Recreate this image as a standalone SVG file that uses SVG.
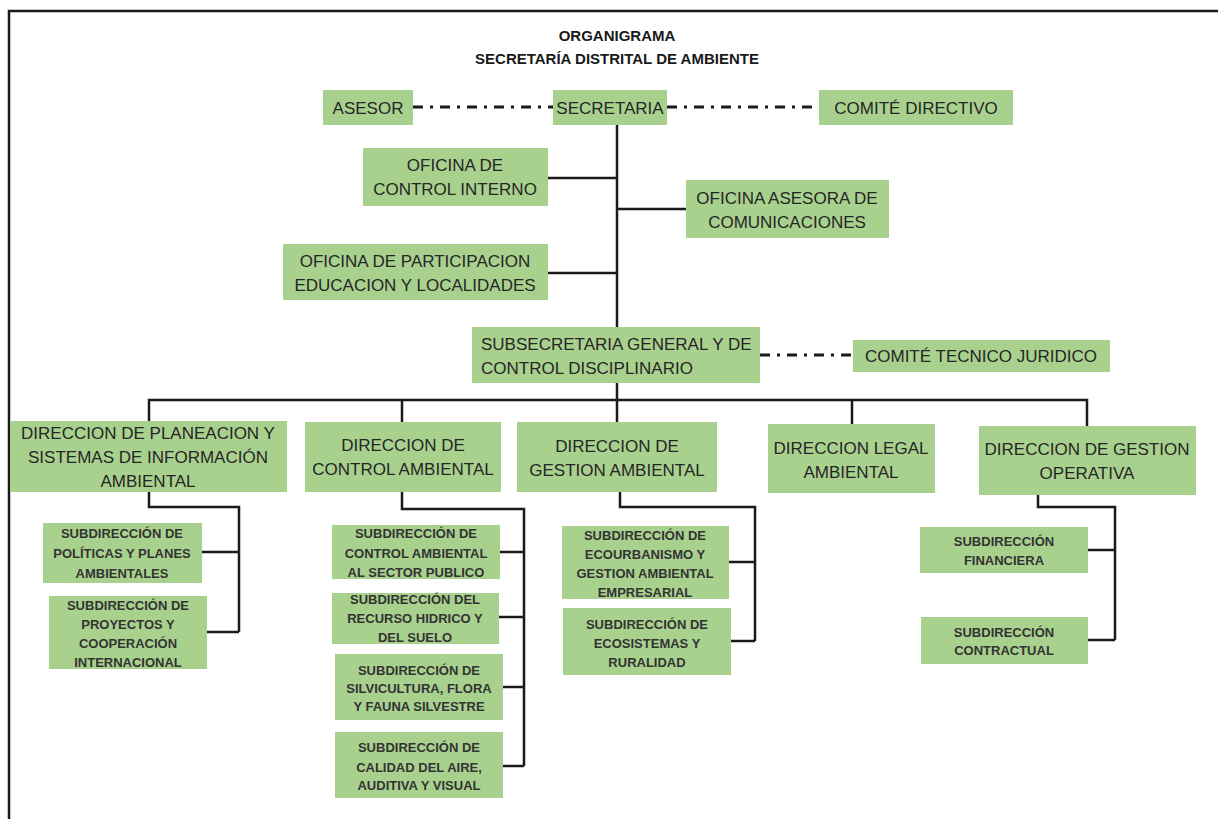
<svg xmlns="http://www.w3.org/2000/svg" width="1218" height="819" viewBox="0 0 1218 819">
<style>
  .bg { fill: #ffffff; }
  .frame { fill: none; stroke: #1a1a1a; stroke-width: 2.5; }
  .box { fill: #a9d18e; }
  .t { font-family: "Liberation Sans", Arial, sans-serif; fill: #262626; text-anchor: middle; dominant-baseline: central; }
  .tl { text-anchor: start; }
  .title { font-family: "Liberation Sans", Arial, sans-serif; font-weight: bold; font-size: 15px; fill: #1a1a1a; text-anchor: middle; dominant-baseline: central; }
  .m { font-size: 17px; }
  .s { font-size: 13px; font-weight: bold; fill: #333333; }
  .ln { fill: none; stroke: #1a1a1a; stroke-width: 2.5; }
  .dd { fill: none; stroke: #1a1a1a; stroke-width: 3; stroke-dasharray: 10 7 3 7; }
</style>
<rect class="bg" x="0" y="0" width="1218" height="819"/>
<path class="frame" d="M9,819 V11 H1218"/>

<g id="title">
  <text class="title" x="617" y="35">ORGANIGRAMA</text>
  <text class="title" x="617" y="58">SECRETARÍA DISTRITAL DE AMBIENTE</text>
</g>

<g id="connectors">
  <path class="dd" d="M413,107 H553"/>
  <path class="dd" d="M667,107 H819"/>
  <path class="dd" d="M760,355 H853"/>
  <path class="ln" d="M617,125 V327"/>
  <path class="ln" d="M548,178 H617"/>
  <path class="ln" d="M617,209 H686"/>
  <path class="ln" d="M548,273 H617"/>
  <path class="ln" d="M617,383 V422"/>
  <path class="ln" d="M149,421 V400 H1087 V426"/>
  <path class="ln" d="M402,400 V422"/>
  <path class="ln" d="M852,400 V424"/>
  <path class="ln" d="M149,492 V507 H239 V632"/>
  <path class="ln" d="M202,552 H239"/>
  <path class="ln" d="M207,632 H239"/>
  <path class="ln" d="M402,492 V509 H524 V766"/>
  <path class="ln" d="M500,552 H524"/>
  <path class="ln" d="M499,617 H524"/>
  <path class="ln" d="M503,687 H524"/>
  <path class="ln" d="M503,766 H524"/>
  <path class="ln" d="M620,492 V507 H755 V641"/>
  <path class="ln" d="M729,562 H755"/>
  <path class="ln" d="M731,641 H755"/>
  <path class="ln" d="M1038,495 V507 H1115 V640"/>
  <path class="ln" d="M1088,550 H1115"/>
  <path class="ln" d="M1088,640 H1115"/>
</g>

<g id="asesor">
  <rect class="box" x="323" y="90" width="90" height="35"/>
  <text class="t m" x="368" y="108">ASESOR</text>
</g>
<g id="secretaria">
  <rect class="box" x="553" y="90" width="114" height="35"/>
  <text class="t m" x="610" y="108">SECRETARIA</text>
</g>
<g id="comite-directivo">
  <rect class="box" x="819" y="90" width="194" height="35"/>
  <text class="t m" x="916" y="108">COMITÉ DIRECTIVO</text>
</g>
<g id="control-interno">
  <rect class="box" x="363" y="148" width="185" height="58"/>
  <text class="t m" x="455" y="165">OFICINA DE</text>
  <text class="t m" x="455" y="189">CONTROL INTERNO</text>
</g>
<g id="comunicaciones">
  <rect class="box" x="686" y="180" width="203" height="58"/>
  <text class="t m" x="787" y="198">OFICINA ASESORA DE</text>
  <text class="t m" x="787" y="222">COMUNICACIONES</text>
</g>
<g id="participacion">
  <rect class="box" x="283" y="244" width="265" height="56"/>
  <text class="t m" x="415" y="261">OFICINA DE PARTICIPACION</text>
  <text class="t m" x="415" y="285">EDUCACION Y LOCALIDADES</text>
</g>
<g id="subsecretaria">
  <rect class="box" x="472" y="327" width="288" height="56"/>
  <text class="t m tl" x="481" y="344">SUBSECRETARIA GENERAL Y DE</text>
  <text class="t m tl" x="481" y="368">CONTROL DISCIPLINARIO</text>
</g>
<g id="comite-tecnico">
  <rect class="box" x="853" y="340" width="257" height="32"/>
  <text class="t m" x="981" y="356">COMITÉ TECNICO JURIDICO</text>
</g>

<g id="dir-planeacion">
  <rect class="box" x="10" y="421" width="277" height="71"/>
  <text class="t m" x="148" y="433">DIRECCION DE PLANEACION Y</text>
  <text class="t m" x="148" y="457">SISTEMAS DE INFORMACIÓN</text>
  <text class="t m" x="148" y="481">AMBIENTAL</text>
</g>
<g id="dir-control">
  <rect class="box" x="305" y="422" width="196" height="70"/>
  <text class="t m" x="403" y="445">DIRECCION DE</text>
  <text class="t m" x="403" y="469">CONTROL AMBIENTAL</text>
</g>
<g id="dir-gestion">
  <rect class="box" x="517" y="422" width="200" height="70"/>
  <text class="t m" x="617" y="446">DIRECCION DE</text>
  <text class="t m" x="617" y="470">GESTION AMBIENTAL</text>
</g>
<g id="dir-legal">
  <rect class="box" x="768" y="424" width="167" height="69"/>
  <text class="t m" x="851" y="448">DIRECCION LEGAL</text>
  <text class="t m" x="851" y="472">AMBIENTAL</text>
</g>
<g id="dir-operativa">
  <rect class="box" x="979" y="426" width="217" height="69"/>
  <text class="t m" x="1087" y="449">DIRECCION DE GESTION</text>
  <text class="t m" x="1087" y="473">OPERATIVA</text>
</g>

<g id="sub-politicas">
  <rect class="box" x="43" y="523" width="159" height="60"/>
  <text class="t s" x="122" y="533">SUBDIRECCIÓN DE</text>
  <text class="t s" x="122" y="553">POLÍTICAS Y PLANES</text>
  <text class="t s" x="122" y="573">AMBIENTALES</text>
</g>
<g id="sub-proyectos">
  <rect class="box" x="49" y="596" width="158" height="73"/>
  <text class="t s" x="128" y="605">SUBDIRECCIÓN DE</text>
  <text class="t s" x="128" y="624">PROYECTOS Y</text>
  <text class="t s" x="128" y="643">COOPERACIÓN</text>
  <text class="t s" x="128" y="662">INTERNACIONAL</text>
</g>
<g id="sub-sector-publico">
  <rect class="box" x="332" y="525" width="168" height="54"/>
  <text class="t s" x="416" y="533">SUBDIRECCIÓN DE</text>
  <text class="t s" x="416" y="553">CONTROL AMBIENTAL</text>
  <text class="t s" x="416" y="572">AL SECTOR PUBLICO</text>
</g>
<g id="sub-recurso-hidrico">
  <rect class="box" x="332" y="593" width="167" height="51"/>
  <text class="t s" x="415" y="599">SUBDIRECCIÓN DEL</text>
  <text class="t s" x="415" y="618">RECURSO HIDRICO Y</text>
  <text class="t s" x="415" y="637">DEL SUELO</text>
</g>
<g id="sub-silvicultura">
  <rect class="box" x="335" y="654" width="168" height="66"/>
  <text class="t s" x="419" y="670">SUBDIRECCIÓN DE</text>
  <text class="t s" x="419" y="688">SILVICULTURA, FLORA</text>
  <text class="t s" x="419" y="706">Y FAUNA SILVESTRE</text>
</g>
<g id="sub-calidad-aire">
  <rect class="box" x="335" y="732" width="168" height="66"/>
  <text class="t s" x="419" y="747">SUBDIRECCIÓN DE</text>
  <text class="t s" x="419" y="767">CALIDAD DEL AIRE,</text>
  <text class="t s" x="419" y="785">AUDITIVA Y VISUAL</text>
</g>
<g id="sub-ecourbanismo">
  <rect class="box" x="562" y="526" width="167" height="73"/>
  <text class="t s" x="645" y="535">SUBDIRECCIÓN DE</text>
  <text class="t s" x="645" y="554">ECOURBANISMO Y</text>
  <text class="t s" x="645" y="573">GESTION AMBIENTAL</text>
  <text class="t s" x="645" y="592">EMPRESARIAL</text>
</g>
<g id="sub-ecosistemas">
  <rect class="box" x="563" y="608" width="168" height="67"/>
  <text class="t s" x="647" y="624">SUBDIRECCIÓN DE</text>
  <text class="t s" x="647" y="643">ECOSISTEMAS Y</text>
  <text class="t s" x="647" y="662">RURALIDAD</text>
</g>
<g id="sub-financiera">
  <rect class="box" x="920" y="527" width="168" height="46"/>
  <text class="t s" x="1004" y="541">SUBDIRECCIÓN</text>
  <text class="t s" x="1004" y="560">FINANCIERA</text>
</g>
<g id="sub-contractual">
  <rect class="box" x="921" y="617" width="167" height="47"/>
  <text class="t s" x="1004" y="632">SUBDIRECCIÓN</text>
  <text class="t s" x="1004" y="650">CONTRACTUAL</text>
</g>
</svg>
